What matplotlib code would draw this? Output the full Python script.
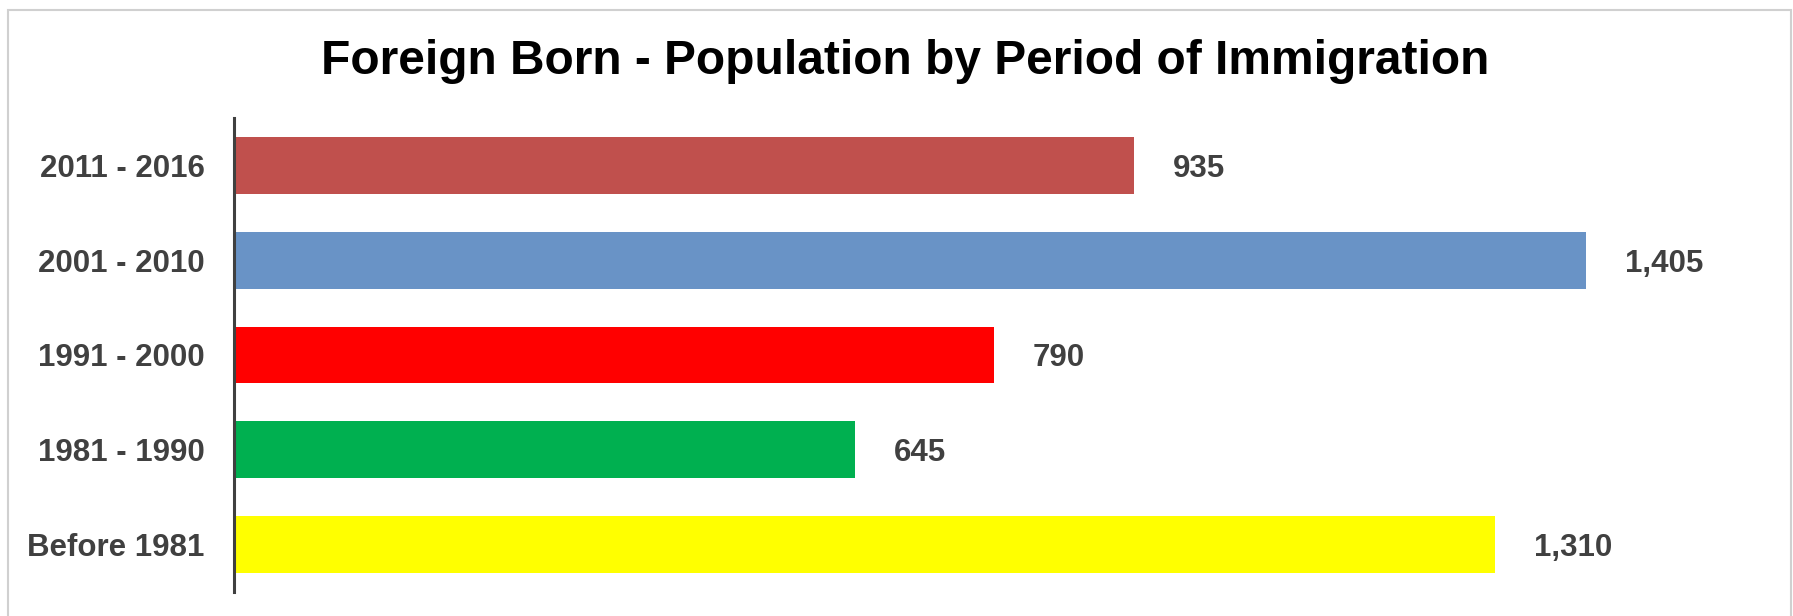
"""
Foreign born population by period of immigration - horizontal bar chart
"""

import matplotlib
matplotlib.use('Agg')
import matplotlib.pyplot as plt
from matplotlib.patches import Rectangle

#=================================================================
# Data

periods = ['2011 - 2016', '2001 - 2010', '1991 - 2000', '1981 - 1990', 'Before 1981']
population = [935, 1405, 790, 645, 1310]
barcolors = ['#C0504D', '#6993C6', '#FF0000', '#00B050', '#FFFF00']

title = 'Foreign Born - Population by Period of Immigration'

#=================================================================

plt.rcParams['font.family'] = ['Liberation Sans', 'DejaVu Sans']

pngwidth = 1793
pngheight = 616
mydpi = 100

fig = plt.figure(figsize=(pngwidth/mydpi, pngheight/mydpi), dpi=mydpi)

# Light gray frame around the chart area (as in the spreadsheet export)
fig.patches.append(Rectangle((8/pngwidth, -0.05), (1791-8)/pngwidth, 1.05-10/pngheight,
                             transform=fig.transFigure, fill=False,
                             edgecolor='#D0D0D0', linewidth=1.5))

# Axes placed in pixel terms: axis line at x=234, from y=118 to y=592
left = 234/pngwidth
bottom = 1 - 592/pngheight
height = (592-118)/pngheight
xmax = 1600
width = xmax*0.9623/pngwidth
ax = fig.add_axes([left, bottom, width, height])

ypos = list(range(len(periods)))
bars = ax.barh(ypos, population, height=0.6, color=barcolors)

ax.set_xlim(0, xmax)
ax.set_ylim(len(periods)-0.5, -0.5)

ax.set_yticks(ypos)
ax.set_yticklabels(periods, fontsize=22.5, fontweight='bold', color='#404040')
ax.tick_params(axis='y', length=0, pad=21)
ax.set_xticks([])

for side in ['top', 'right', 'bottom']:
    ax.spines[side].set_visible(False)
ax.spines['left'].set_color('#404040')
ax.spines['left'].set_linewidth(2.2)

vals = ax.bar_label(bars, labels=['{:,}'.format(v) for v in population], padding=28,
                    fontsize=22.5, fontweight='bold', color='#404040')
for t in vals:
    t.set_va('center_baseline')

fig.text(905/pngwidth, 1 - 61/pngheight, title, ha='center', va='center',
         fontsize=34.5, fontweight='bold', color='black')

plt.savefig('out.png', dpi=mydpi)
